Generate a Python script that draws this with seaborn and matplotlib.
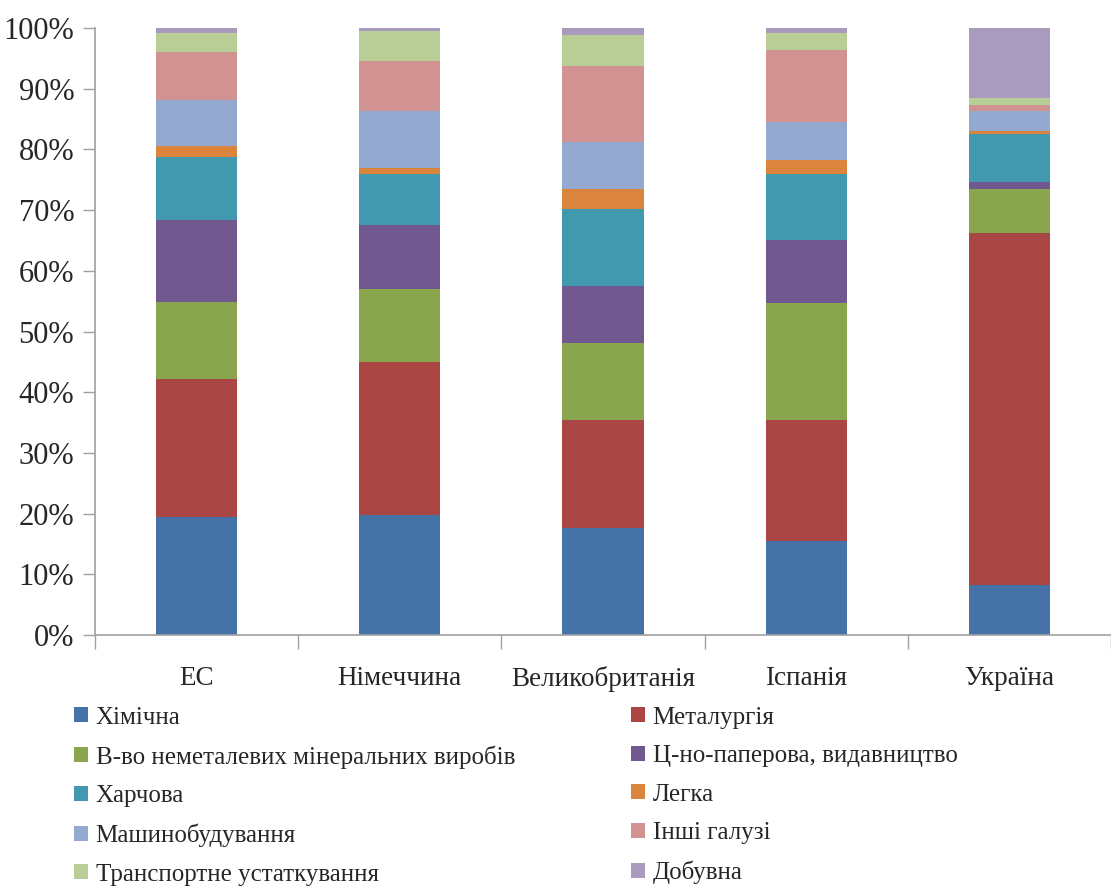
import numpy as np
import pandas as pd
import matplotlib
matplotlib.use("Agg")
import matplotlib.pyplot as plt
from matplotlib.patches import Patch
from matplotlib.ticker import FixedLocator, PercentFormatter
import seaborn as sns

# Countries / regions on the x axis
countries = ["ЕС", "Німеччина", "Великобританія", "Іспанія", "Україна"]

# Industry shares, % (bottom to top of each stacked column)
khimichna      = [19.5, 19.8, 17.7, 15.5,  8.3]
metalurhiia    = [22.6, 25.2, 17.7, 19.9, 57.9]
nemetalevi     = [12.7, 12.0, 12.7, 19.3,  7.3]
tsellyulozna   = [13.5, 10.6,  9.4, 10.3,  1.2]
kharchova      = [10.4,  8.4, 12.6, 10.9,  7.9]
lehka          = [ 1.9,  0.9,  3.3,  2.4,  0.4]
mashynobud     = [ 7.5,  9.4,  7.9,  6.2,  3.3]
inshi          = [ 8.0,  8.2, 12.4, 11.9,  1.0]
transport      = [ 3.1,  5.0,  5.1,  2.7,  1.2]
dobuvna        = [ 0.8,  0.5,  1.2,  0.9, 11.5]

series_names = [
    "Хімічна",
    "Металургія",
    "В-во неметалевих мінеральних виробів",
    "Ц-но-паперова, видавництво",
    "Харчова",
    "Легка",
    "Машинобудування",
    "Інші галузі",
    "Транспортне устаткування",
    "Добувна",
]
series_values = [khimichna, metalurhiia, nemetalevi, tsellyulozna, kharchova,
                 lehka, mashynobud, inshi, transport, dobuvna]
colors = ["#4572A7", "#AA4643", "#89A54E", "#71588F", "#4198AF",
          "#DB843D", "#93A9CF", "#D19392", "#B9CD96", "#A99BBD"]

sns.set_theme(style="white")
plt.rcParams["font.family"] = ["Liberation Serif", "DejaVu Serif"]

fig = plt.figure(figsize=(11.11, 8.89), dpi=100)
ax = fig.add_axes([0.0855, 0.2857, 0.9145, 0.6828])

# Normalise each column to 100 %
totals = np.sum(np.array(series_values), axis=0)
bottom = np.zeros(len(countries))
for name, vals, col in zip(series_names, series_values, colors):
    share = np.array(vals) / totals
    df = pd.DataFrame({"country": countries, "share": share})
    sns.barplot(data=df, x="country", y="share", order=countries, color=col,
                width=0.4, bottom=bottom, ax=ax, saturation=1,
                edgecolor="none", linewidth=0)
    bottom = bottom + share

ax.set_xlim(-0.5, len(countries) - 0.5)
ax.set_ylim(0, 1.0)
ax.set_xlabel("")
ax.set_ylabel("")

# y axis: percent ticks
ax.yaxis.set_major_locator(FixedLocator(np.linspace(0, 1, 11)))
ax.yaxis.set_major_formatter(PercentFormatter(1.0, decimals=0))
ax.tick_params(axis="y", which="major", left=True, length=9, width=1,
               color="#A0A0A0", labelsize=22, pad=6, direction="out")

# x axis: labels centred under columns, tick marks between categories
ax.tick_params(axis="x", which="major", length=0, labelsize=19.5, pad=22)
ax.xaxis.set_minor_locator(FixedLocator(np.arange(-0.5, len(countries), 1.0)))
ax.tick_params(axis="x", which="minor", bottom=True, length=10, width=1,
               color="#A0A0A0", direction="out")

for s in ["top", "right"]:
    ax.spines[s].set_visible(False)
for s in ["left", "bottom"]:
    ax.spines[s].set_color("#A0A0A0")
    ax.spines[s].set_linewidth(1.2)
ax.grid(False)

# Legend: two columns, row-wise order
order = [0, 2, 4, 6, 8, 1, 3, 5, 7, 9]
handles = [Patch(facecolor=colors[i], edgecolor="none") for i in order]
labels = [series_names[i] for i in order]
fig.legend(handles, labels, ncol=2, loc="upper left",
           bbox_to_anchor=(0.067, 0.205), frameon=False, fontsize=18,
           handlelength=0.55, handleheight=0.55, handletextpad=0.3,
           labelspacing=0.66, columnspacing=4.65, borderaxespad=0,
           borderpad=0)

fig.savefig("out.png", dpi=100)
